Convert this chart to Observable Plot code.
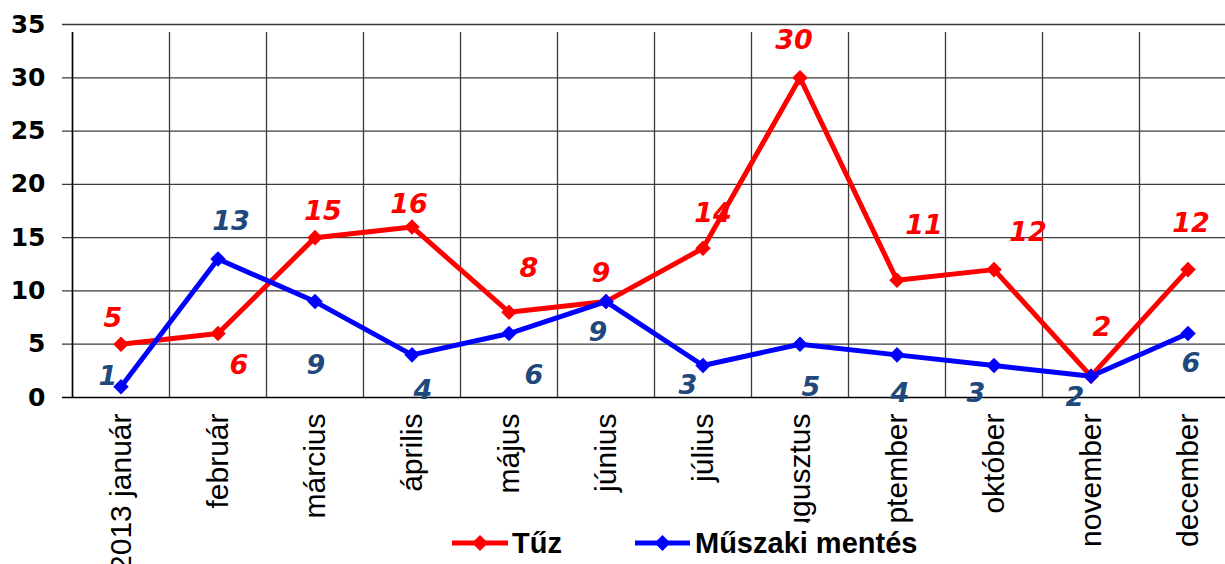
<!DOCTYPE html>
<html>
<head>
<meta charset="utf-8">
<script src="https://cdn.jsdelivr.net/npm/d3@7"></script>
<script src="https://cdn.jsdelivr.net/npm/@observablehq/plot@0.6"></script>
<style>
  html, body { margin: 0; padding: 0; background: #fff; overflow: hidden; }
  #wrap { position: relative; width: 1225px; height: 564px; }
  #legend { position: absolute; left: 440px; top: 523px; width: 490px; height: 41px; background: #fff; }
</style>
</head>
<body>
<div id="wrap">
  <div id="chart"></div>
  <div id="legend"></div>
</div>
<script>
// ---- data ----
const months = ["2013 január", "február", "március", "április", "május", "június",
                "július", "augusztus", "szeptember", "október", "november", "december"];
const tuz = [5, 6, 15, 16, 8, 9, 14, 30, 11, 12, 2, 12];
const muszaki = [1, 13, 9, 4, 6, 9, 3, 5, 4, 3, 2, 6];
const yTicks = [0, 5, 10, 15, 20, 25, 30, 35];
const seriesNames = ["Tűz", "Műszaki mentés"];

// label placement (pixel offsets from each point, as in the original)
const tuzLabelOffsets = [[-8,-26],[21,32],[8,-26],[-3,-23],[20,-44],[-5,-28],[10,-35],[-6,-37],[27,-55],[34,-37],[11,-49],[3,-46]];
const muszakiLabelOffsets = [[-13,-10],[13,-38],[1,64],[11,35],[25,42],[-8,31],[-15,20],[11,43],[3,38],[-18,28],[-16,21],[3,30]];

const RED = "#ff0000", BLUE = "#0000ff", BLUE_TXT = "#1f497d", GRID = "#3a3a3a";

const idx = months.map((_, i) => i);
const bounds = d3.range(months.length + 1).map(i => i - 0.5);
const tuzData = tuz.map((v, i) => ({i, v}));
const muszData = muszaki.map((v, i) => ({i, v}));

const labelFont = {fontFamily: "DejaVu Sans", fontWeight: "bold", fontStyle: "italic", fontSize: 27};

const tuzLabels = tuzData.map((d, k) => Plot.text([d], {
  x: "i", y: "v", text: d => String(d.v), fill: RED,
  dx: tuzLabelOffsets[k][0], dy: tuzLabelOffsets[k][1], ...labelFont
}));
const muszLabels = muszData.map((d, k) => Plot.text([d], {
  x: "i", y: "v", text: d => String(d.v), fill: BLUE_TXT,
  dx: muszakiLabelOffsets[k][0], dy: muszakiLabelOffsets[k][1], ...labelFont
}));

const chart = Plot.plot({
  width: 1225,
  height: 564,
  marginLeft: 72,
  marginRight: 0,
  marginTop: 24,
  marginBottom: 167,
  x: {type: "linear", domain: [-0.5, months.length - 0.5], range: [72, 1236], axis: null},
  y: {domain: [0, 35], axis: null},
  style: {background: "#fff", overflow: "hidden", color: "#000"},
  marks: [
    // horizontal grid with tick stubs on the left
    Plot.ruleY(yTicks.filter(t => t > 0), {x1: -0.5, x2: months.length - 0.5, stroke: GRID, strokeWidth: 1.3, insetLeft: -10}),
    // vertical grid with tick stubs below
    Plot.ruleX(bounds, {y1: 0, y2: 35, stroke: GRID, strokeWidth: 1.3, insetBottom: -8}),
    // axes lines
    Plot.ruleY([0], {x1: -0.5, x2: months.length - 0.5, stroke: "#000", strokeWidth: 1.5, insetLeft: -10}),
    Plot.ruleX([-0.5], {y1: 0, y2: 35, stroke: "#000", strokeWidth: 1.5, insetBottom: -8}),
    // y tick labels
    Plot.axisY(yTicks, {tickSize: 0, tickPadding: 27, fontSize: 25, fontFamily: "DejaVu Sans", fontWeight: "bold", label: null, fill: "#000"}),
    // x labels
    Plot.text(idx, {x: d => d, y: () => 0, text: d => months[d], rotate: -90, textAnchor: "end",
      lineAnchor: "middle", dy: 16, fontSize: 30, fontFamily: "Liberation Sans", fill: "#000"}),
    // series
    Plot.line(tuzData, {x: "i", y: "v", stroke: RED, strokeWidth: 5, strokeLinejoin: "round"}),
    Plot.line(muszData, {x: "i", y: "v", stroke: BLUE, strokeWidth: 5, strokeLinejoin: "round"}),
    Plot.dot(tuzData, {x: "i", y: "v", symbol: "diamond2", r: 7, fill: RED, stroke: null}),
    Plot.dot(muszData, {x: "i", y: "v", symbol: "diamond2", r: 7, fill: BLUE, stroke: null}),
    ...tuzLabels,
    ...muszLabels
  ]
});
document.getElementById("chart").appendChild(chart);

// ---- legend (overlapping the bottom, white background as in original) ----
const leg = d3.select("#legend").append("svg").attr("width", 490).attr("height", 41);
const items = [
  {name: seriesNames[0], color: RED, x0: 12, x1: 68, xt: 72},
  {name: seriesNames[1], color: BLUE, x0: 195, x1: 250, xt: 255}
];
for (const it of items) {
  leg.append("line").attr("x1", it.x0).attr("x2", it.x1).attr("y1", 20).attr("y2", 20)
    .attr("stroke", it.color).attr("stroke-width", 5);
  const cx = (it.x0 + it.x1) / 2;
  leg.append("path").attr("d", `M${cx},${20-8}L${cx+8},20L${cx},${20+8}L${cx-8},20Z`).attr("fill", it.color);
  leg.append("text").attr("x", it.xt).attr("y", 30).attr("font-family", "Liberation Sans")
    .attr("font-weight", "bold").attr("font-size", 29).attr("fill", "#000").text(it.name);
}
</script>
</body>
</html>
